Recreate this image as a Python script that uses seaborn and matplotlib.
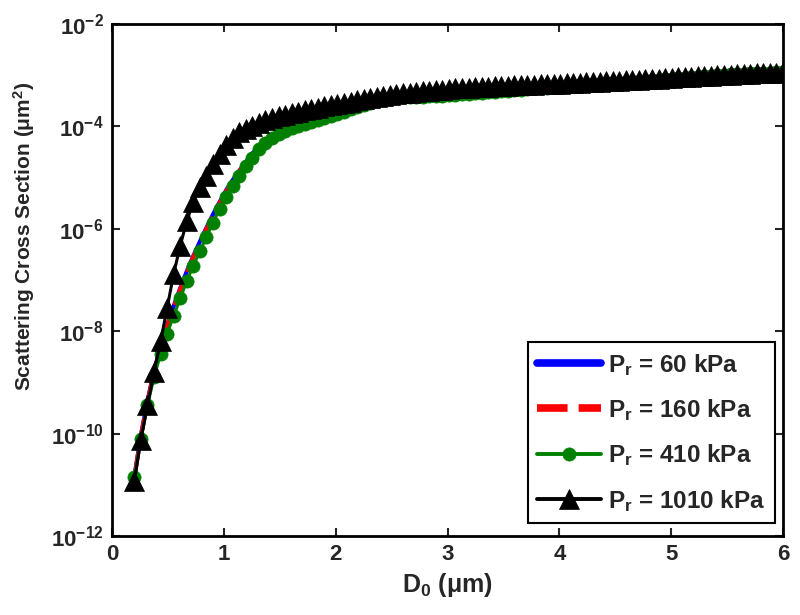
import numpy as np
import pandas as pd
import matplotlib
matplotlib.use("Agg")
import matplotlib.pyplot as plt
import seaborn as sns

# ---------------- data (log10 of scattering cross section, um^2) ----------------
D0 = np.linspace(0.2, 6.0, 100)  # bubble diameter grid (um)

log10_sigma_60 = [
    -10.84, -10.03, -9.36, -8.78, -8.30, -7.88, -7.51, -7.16, -6.83, -6.53,
    -6.25, -5.98, -5.72, -5.48, -5.25, -5.05, -4.87, -4.70, -4.53, -4.40,
    -4.29, -4.20, -4.14, -4.08, -4.03, -3.99, -3.95, -3.91, -3.87, -3.83,
    -3.79, -3.75, -3.71, -3.67, -3.63, -3.59, -3.55, -3.51, -3.48, -3.46,
    -3.44, -3.43, -3.43, -3.42, -3.42, -3.41, -3.41, -3.40, -3.39, -3.38,
    -3.37, -3.36, -3.35, -3.34, -3.33, -3.32, -3.31, -3.30, -3.29, -3.28,
    -3.27, -3.26, -3.26, -3.25, -3.24, -3.23, -3.22, -3.21, -3.20, -3.19,
    -3.18, -3.17, -3.16, -3.16, -3.15, -3.14, -3.13, -3.12, -3.11, -3.10,
    -3.09, -3.08, -3.07, -3.06, -3.05, -3.04, -3.03, -3.02, -3.01, -3.00,
    -2.99, -2.985, -2.98, -2.97, -2.965, -2.96, -2.955, -2.95, -2.945, -2.94,
]
log10_sigma_160 = [
    -10.85, -10.05, -9.38, -8.80, -8.32, -7.90, -7.53, -7.18, -6.85, -6.55,
    -6.27, -6.00, -5.74, -5.50, -5.27, -5.06, -4.88, -4.71, -4.54, -4.41,
    -4.30, -4.21, -4.14, -4.08, -4.03, -3.99, -3.95, -3.91, -3.87, -3.83,
    -3.79, -3.75, -3.71, -3.67, -3.63, -3.59, -3.55, -3.51, -3.48, -3.46,
    -3.44, -3.43, -3.43, -3.42, -3.42, -3.41, -3.41, -3.40, -3.39, -3.38,
    -3.37, -3.36, -3.35, -3.34, -3.33, -3.32, -3.31, -3.30, -3.29, -3.28,
    -3.27, -3.26, -3.26, -3.25, -3.24, -3.23, -3.22, -3.21, -3.20, -3.19,
    -3.18, -3.17, -3.16, -3.16, -3.15, -3.14, -3.13, -3.12, -3.11, -3.10,
    -3.09, -3.08, -3.07, -3.06, -3.05, -3.04, -3.03, -3.02, -3.01, -3.00,
    -2.99, -2.985, -2.98, -2.97, -2.965, -2.96, -2.955, -2.95, -2.945, -2.94,
]
log10_sigma_410 = [
    -10.85, -10.10, -9.45, -8.90, -8.45, -8.05, -7.70, -7.36, -7.02, -6.72,
    -6.44, -6.16, -5.88, -5.62, -5.38, -5.16, -4.96, -4.78, -4.61, -4.45,
    -4.32, -4.22, -4.15, -4.09, -4.04, -3.99, -3.95, -3.91, -3.87, -3.83,
    -3.79, -3.75, -3.71, -3.67, -3.63, -3.59, -3.55, -3.51, -3.48, -3.46,
    -3.44, -3.43, -3.43, -3.42, -3.42, -3.41, -3.41, -3.40, -3.39, -3.38,
    -3.37, -3.36, -3.35, -3.34, -3.33, -3.32, -3.31, -3.30, -3.29, -3.28,
    -3.27, -3.26, -3.26, -3.25, -3.24, -3.23, -3.22, -3.21, -3.20, -3.19,
    -3.18, -3.17, -3.16, -3.16, -3.15, -3.14, -3.13, -3.12, -3.11, -3.10,
    -3.09, -3.08, -3.07, -3.06, -3.05, -3.04, -3.03, -3.02, -3.01, -3.00,
    -2.99, -2.985, -2.98, -2.97, -2.965, -2.96, -2.955, -2.95, -2.945, -2.94,
]
log10_sigma_1010 = [
    -10.92, -10.12, -9.45, -8.80, -8.20, -7.55, -6.88, -6.33, -5.85, -5.47,
    -5.19, -4.96, -4.74, -4.53, -4.36, -4.22, -4.11, -4.05, -4.00, -3.94,
    -3.88, -3.84, -3.80, -3.77, -3.74, -3.71, -3.68, -3.66, -3.64, -3.61,
    -3.59, -3.57, -3.54, -3.52, -3.49, -3.47, -3.45, -3.43, -3.41, -3.39,
    -3.37, -3.35, -3.34, -3.32, -3.31, -3.30, -3.29, -3.28, -3.27, -3.26,
    -3.25, -3.245, -3.24, -3.23, -3.225, -3.22, -3.21, -3.205, -3.20, -3.195,
    -3.19, -3.185, -3.18, -3.175, -3.17, -3.165, -3.16, -3.155, -3.15, -3.14,
    -3.135, -3.13, -3.12, -3.115, -3.11, -3.10, -3.095, -3.09, -3.08, -3.075,
    -3.07, -3.06, -3.05, -3.045, -3.04, -3.03, -3.025, -3.02, -3.01, -3.005,
    -3.00, -2.99, -2.985, -2.98, -2.97, -2.965, -2.96, -2.955, -2.95, -2.945,
]

series_labels = ["P$_{r}$ = 60 kPa", "P$_{r}$ = 160 kPa",
                 "P$_{r}$ = 410 kPa", "P$_{r}$ = 1010 kPa"]
x_ticks = [0, 1, 2, 3, 4, 5, 6]
y_tick_exponents = [-12, -10, -8, -6, -4, -2]

# ---------------- style ----------------
sns.set_style("ticks")
plt.rcParams["font.family"] = ["Liberation Sans", "DejaVu Sans"]
plt.rcParams["font.weight"] = "bold"
plt.rcParams["mathtext.fontset"] = "custom"
plt.rcParams["mathtext.rm"] = "Liberation Sans:bold"
plt.rcParams["mathtext.it"] = "Liberation Sans:bold"
plt.rcParams["mathtext.bf"] = "Liberation Sans:bold"
plt.rcParams["mathtext.sf"] = "Liberation Sans:bold"

fig = plt.figure(figsize=(8.0, 6.15), dpi=100)
ax = fig.add_axes([0.14, 0.1285, 0.83875, 0.8325])

df = pd.DataFrame({
    "D0": np.tile(D0, 4),
    "sigma": np.concatenate([10.0 ** np.array(v) for v in
                             (log10_sigma_60, log10_sigma_160,
                              log10_sigma_410, log10_sigma_1010)]),
    "series": np.repeat(series_labels, len(D0)),
})

styles = {
    series_labels[0]: dict(color="#0000ff", lw=3.0, ls="-"),
    series_labels[1]: dict(color="#ff0000", lw=3.0, ls=(0, (6, 2.5))),
    series_labels[2]: dict(color="#008000", lw=2.2, ls="-", marker="o",
                           markersize=9.5, mec="#008000", mfc="#008000", mew=0.5),
    series_labels[3]: dict(color="black", lw=2.2, ls="-", marker="^",
                           markersize=14, mec="black", mfc="black", mew=0.5),
}

for lab in series_labels:
    sub = df[df["series"] == lab]
    sns.lineplot(data=sub, x="D0", y="sigma", ax=ax, label=lab,
                 estimator=None, sort=True, **styles[lab])

ax.set_yscale("log")
ax.set_xlim(0, 6)
ax.set_ylim(1e-12, 1e-2)
ax.set_xticks(x_ticks)
ax.set_xticklabels([str(t) for t in x_ticks])
ax.set_yticks([10.0 ** e for e in y_tick_exponents])
ax.set_yticklabels(["10$^{%d}$" % e for e in y_tick_exponents])
ax.yaxis.set_minor_locator(matplotlib.ticker.NullLocator())
ax.tick_params(axis="both", which="major", direction="in", length=6, width=1.5,
               top=True, right=True, labelsize=16, pad=6)
for s in ax.spines.values():
    s.set_linewidth(2.0)
    s.set_color("black")

ax.set_xlabel("D$_{0}$ (\u03bcm)", fontsize=18, fontweight="bold", labelpad=4)
ax.set_ylabel("Scattering Cross Section (\u03bcm$^{2}$)", fontsize=15,
              fontweight="bold")
ax.yaxis.set_label_coords(-0.112, 0.585)

leg = ax.legend(loc="upper right", bbox_to_anchor=(0.988, 0.379),
                borderaxespad=0.0, fontsize=17.5, handlelength=2.6,
                handletextpad=0.3, labelspacing=0.8, borderpad=0.4,
                fancybox=False, framealpha=1.0, edgecolor="black")
leg.get_frame().set_linewidth(1.5)
legend_lines = leg.get_lines()
for h, lw in zip(legend_lines, [5.5, 5.5, 2.8, 2.8]):
    h.set_linewidth(lw)
legend_lines[1].set_linestyle((0, (4, 1.45)))
for t in leg.get_texts():
    t.set_fontweight("bold")

fig.savefig("out.png", dpi=100)
